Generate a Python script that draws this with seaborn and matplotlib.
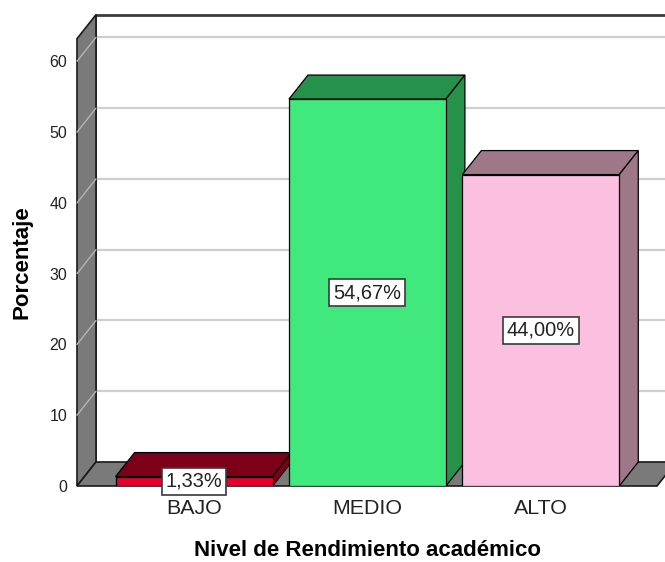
import matplotlib
matplotlib.use("Agg")
import matplotlib.pyplot as plt
import seaborn as sns
from matplotlib.patches import Polygon
from matplotlib.lines import Line2D

# ---- data ----
categories = ["BAJO", "MEDIO", "ALTO"]
values = [1.33, 54.67, 44.00]
labels = ["1,33%", "54,67%", "44,00%"]
yticks = [0, 10, 20, 30, 40, 50, 60]

front_colors = ["#E6002E", "#41E87D", "#FBBFDF"]
depth_colors = ["#7D0019", "#26914B", "#9E7888"]

sns.set_theme(style="white")
plt.rcParams["font.family"] = ["Liberation Sans", "DejaVu Sans"]

W, H = 665, 562
fig = plt.figure(figsize=(W / 100, H / 100), dpi=100, facecolor="white")
# front plane in pixels: left 77, right 657, bottom 486, top 38.7
ax = fig.add_axes([77 / W, (H - 486) / H, 580 / W, 447.3 / H])
ax.set_facecolor("none")

sns.barplot(x=categories, y=values, hue=categories, palette=front_colors,
            saturation=1, dodge=False, legend=False, width=0.905,
            edgecolor="black", linewidth=0.9, ax=ax)
bars = sorted(list(ax.patches), key=lambda r: r.get_x())

xlim = (-0.675, 2.670)
ytop = 63.2
ax.set_xlim(*xlim)
ax.set_ylim(0, ytop)

# depth offset in data units (19 px right, 24 px up)
dx = 19 / 173.4
dy = 24 / 7.075

x0, x1 = xlim
wall = "#7A7A7A"
# back wall gridlines
for v in yticks[1:]:
    ax.add_line(Line2D([x0 + dx, x1 + dx + 1], [v + dy, v + dy], color="#CFCFCF",
                       lw=1.6, zorder=0.6, clip_on=False))
# back wall top border and left edge
ax.add_line(Line2D([x0 + dx, x1 + dx + 1], [ytop + dy, ytop + dy], color="#3C3C3C",
                   lw=2.0, zorder=0.7, clip_on=False))
ax.add_line(Line2D([x0 + dx, x0 + dx], [dy, ytop + dy], color="#222222",
                   lw=1.2, zorder=0.7, clip_on=False))
# left wall
ax.add_patch(Polygon([(x0, 0), (x0, ytop), (x0 + dx, ytop + dy), (x0 + dx, dy)],
                     closed=True, fc=wall, ec="#1A1A1A", lw=1.2, zorder=0.8, clip_on=False))
for v in yticks[1:]:
    ax.add_line(Line2D([x0, x0 + dx], [v, v + dy], color="#B5B5B5",
                       lw=1.0, zorder=0.85, clip_on=False))
# floor
ax.add_patch(Polygon([(x0, 0), (x1, 0), (x1 + dx, dy), (x0 + dx, dy)],
                     closed=True, fc=wall, ec="#1A1A1A", lw=1.2, zorder=0.9, clip_on=False))

# 3D bar faces
for i, p in enumerate(bars):
    bx, bw, bh = p.get_x(), p.get_width(), p.get_height()
    z = 3 + i
    p.set_zorder(z + 0.2)
    top = Polygon([(bx, bh), (bx + bw, bh), (bx + bw + dx, bh + dy), (bx + dx, bh + dy)],
                  closed=True, fc=depth_colors[i], ec="black", lw=0.9, zorder=z)
    side = Polygon([(bx + bw, 0), (bx + bw, bh), (bx + bw + dx, bh + dy), (bx + bw + dx, dy)],
                   closed=True, fc=depth_colors[i], ec="black", lw=0.9, zorder=z)
    ax.add_patch(top)
    ax.add_patch(side)
    ax.text(bx + bw / 2, bh / 2, labels[i], ha="center", va="center",
            fontsize=14.4, color="#222222", zorder=10,
            bbox=dict(boxstyle="square,pad=0.2", fc="white", ec="#3A3A3A", lw=1.2))

for s in ax.spines.values():
    s.set_visible(False)
ax.grid(False)
ax.set_yticks(yticks)
ax.set_yticklabels([str(v) for v in yticks])
ax.tick_params(axis="y", length=0, pad=7, labelsize=11.5, labelcolor="#222222")
ax.tick_params(axis="x", length=0, pad=9, labelsize=15.4, labelcolor="#222222")

ax.set_xlabel("Nivel de Rendimiento académico", fontsize=16, fontweight="bold",
              color="black", va="center")
ax.xaxis.set_label_coords(0.5, (486 - 551) / 447.3)
ax.set_ylabel("Porcentaje", fontsize=16, fontweight="bold", color="black", va="center")
ax.yaxis.set_label_coords((22 - 77) / 580, 0.5)

fig.savefig("out.png", dpi=100, facecolor="white")
